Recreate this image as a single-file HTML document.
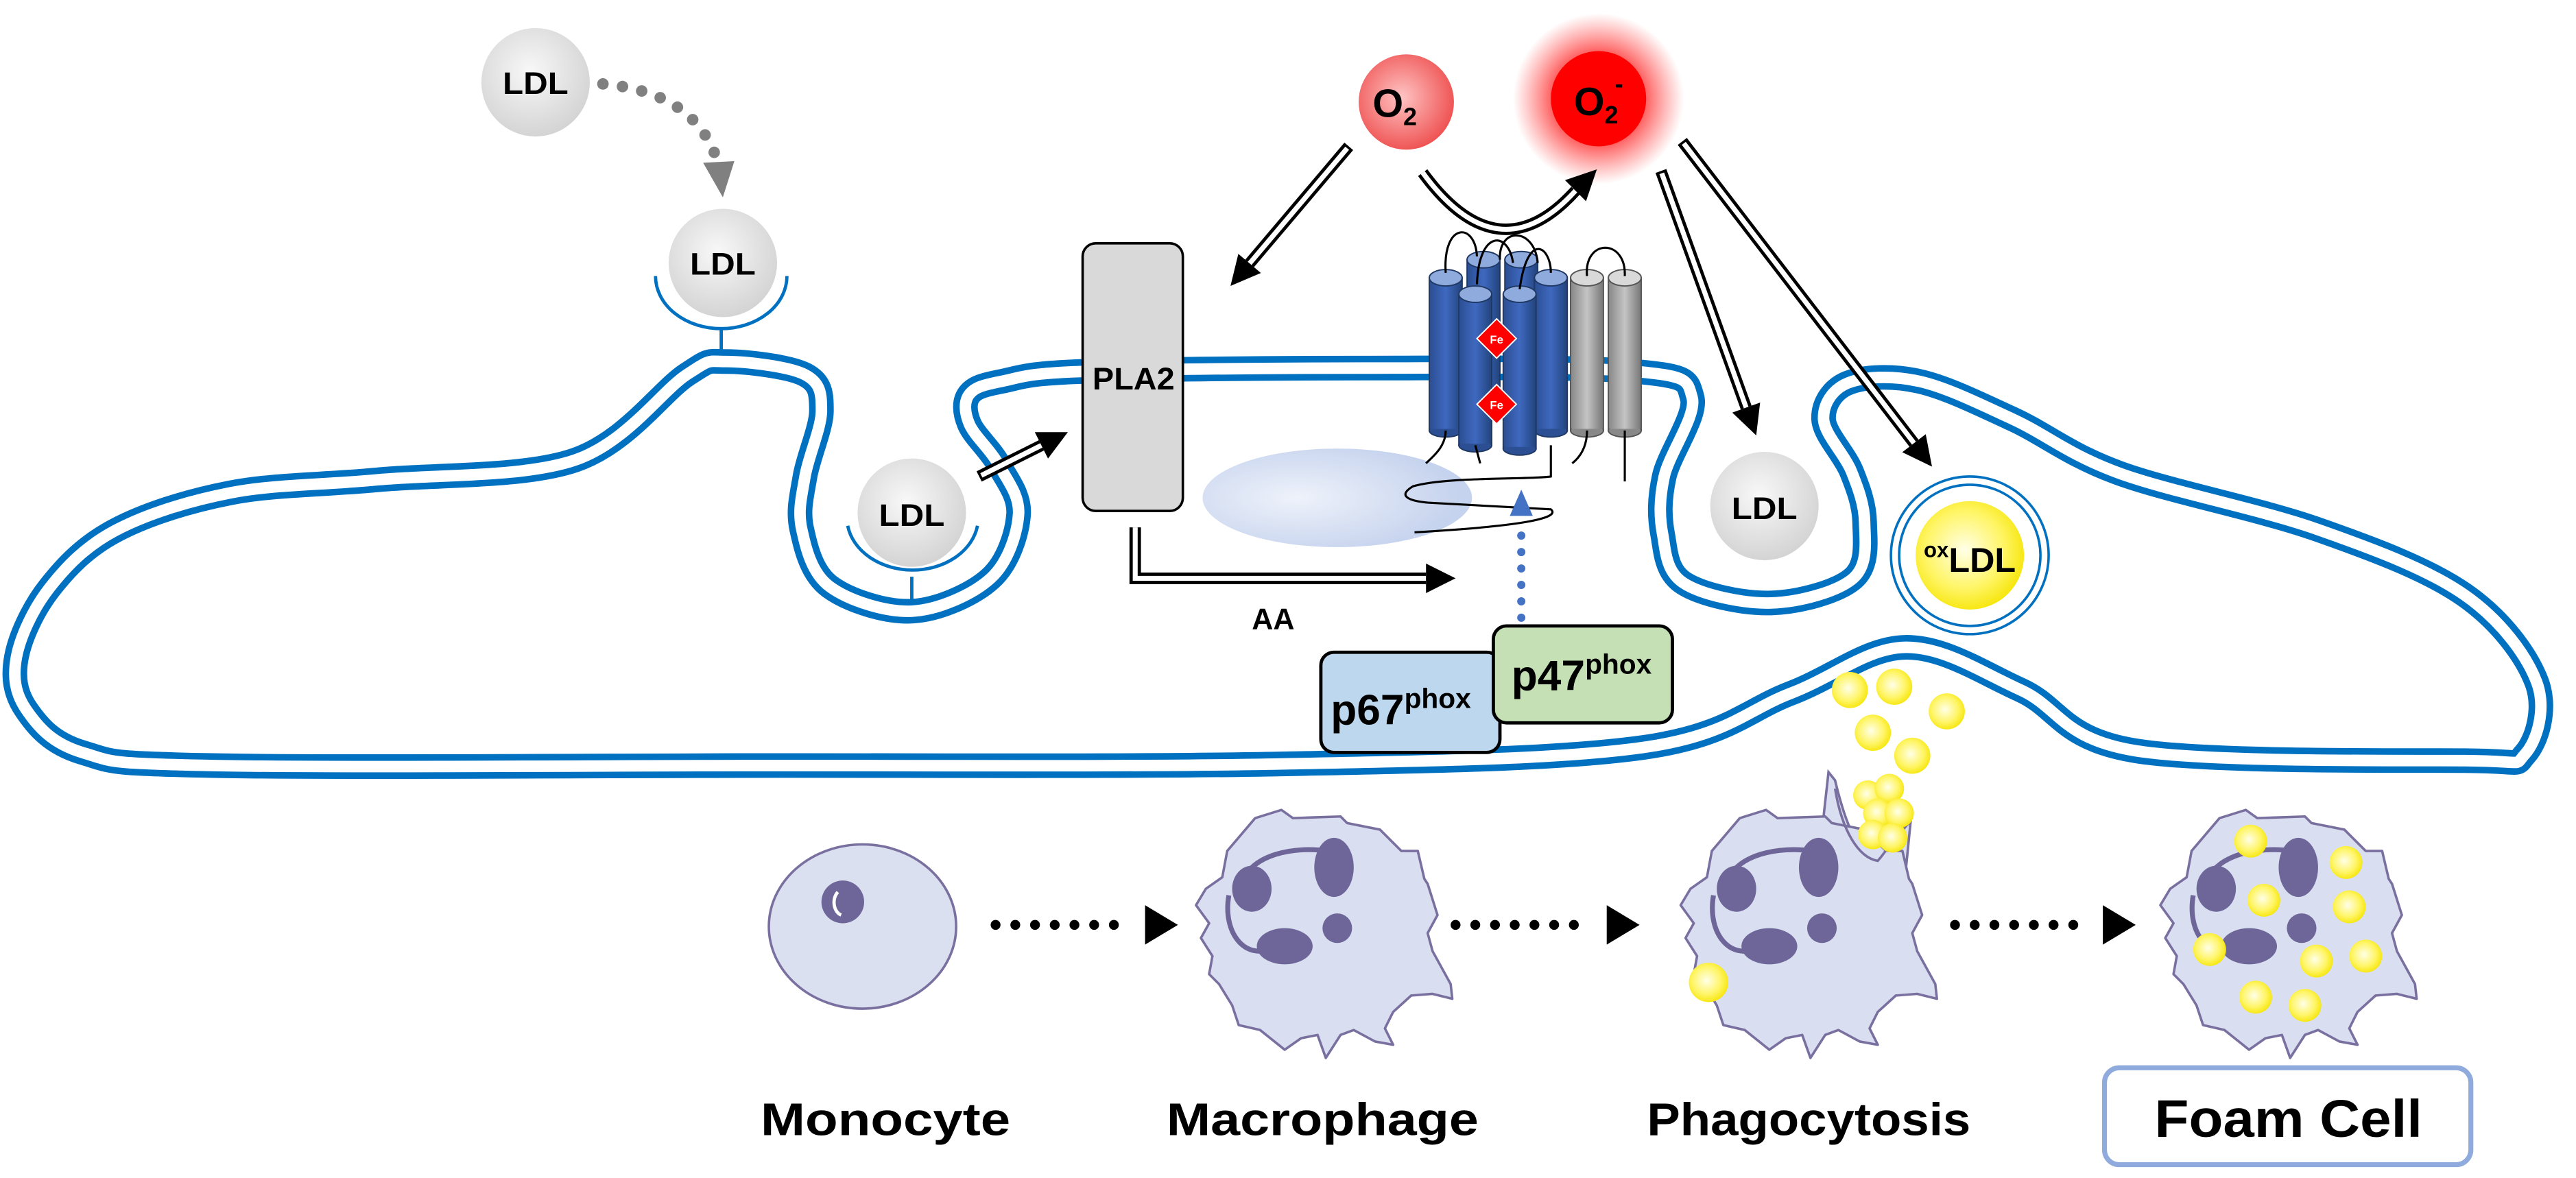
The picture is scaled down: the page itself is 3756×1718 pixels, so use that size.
<!DOCTYPE html>
<html><head><meta charset="utf-8"><style>
html,body{margin:0;padding:0;background:#fff;}
svg{display:block;}
text{font-family:"Liberation Sans",sans-serif;font-weight:bold;fill:#000;}
</style></head><body>
<svg id="s" width="3756" height="1718" viewBox="0 0 1568 717" xmlns="http://www.w3.org/2000/svg">
<defs>
<radialGradient id="gLdl" cx="0.45" cy="0.4" r="0.6"><stop offset="0" stop-color="#f8f8f8"/><stop offset="1" stop-color="#d4d4d4"/></radialGradient>
<radialGradient id="gO2" cx="0.45" cy="0.45" r="0.6"><stop offset="0" stop-color="#ffc4c4"/><stop offset="1" stop-color="#ee4c4c"/></radialGradient>
<radialGradient id="gGlow" cx="0.5" cy="0.5" r="0.5"><stop offset="0.5" stop-color="#ff2020" stop-opacity="0.8"/><stop offset="1" stop-color="#ff4040" stop-opacity="0"/></radialGradient>
<radialGradient id="gY" cx="0.45" cy="0.45" r="0.6"><stop offset="0" stop-color="#ffffe8"/><stop offset="0.6" stop-color="#fff566"/><stop offset="1" stop-color="#f5e400"/></radialGradient>
<radialGradient id="gEl" cx="0.35" cy="0.5" r="0.6"><stop offset="0" stop-color="#eef2fa"/><stop offset="1" stop-color="#c6d3ee"/></radialGradient>
<linearGradient id="gBlue" x1="0" x2="1"><stop offset="0" stop-color="#2c4f94"/><stop offset="0.5" stop-color="#3f69c0"/><stop offset="1" stop-color="#23457f"/></linearGradient>
<linearGradient id="gGray" x1="0" x2="1"><stop offset="0" stop-color="#8a8a8a"/><stop offset="0.5" stop-color="#c4c4c4"/><stop offset="1" stop-color="#7a7a7a"/></linearGradient>
<g id="mac">
<path d="M747,518 L764,498 L780,493 L787,498 L816,497 L820,501 L840,505 L853,518 L863,518 L867,535 L869,538 L875,557 L869,568 L872,579 L883,599 L884,608 L872,605 L859,606 L848,616 L843,626 L848,636 L837,634 L824,627 L816,630 L807,644 L802,630 L792,632 L782,639 L767,627 L754,624 L750,612 L742,599 L736,593 L738,582 L731,571 L736,562 L728,551 L734,541 L744,534 Z" fill="#d9dff0" stroke="#7a70a0" stroke-width="1.5" stroke-linejoin="round"/>
<path d="M756,537 C762,520 788,515 808,518" fill="none" stroke="#6e6699" stroke-width="3"/>
<path d="M748,545 C744,568 758,585 775,577" fill="none" stroke="#6e6699" stroke-width="3"/>
<ellipse cx="812" cy="528" rx="12" ry="18" fill="#6e6699"/>
<ellipse cx="762" cy="541" rx="12" ry="14" fill="#6e6699"/>
<ellipse cx="782" cy="576" rx="17" ry="11" fill="#6e6699"/>
<ellipse cx="814" cy="565" rx="9" ry="9" fill="#6e6699"/>
</g>
</defs>

<path id="mem1" fill="none" stroke="#0070c0" stroke-width="15" stroke-linejoin="round"/>
<path id="mem2" fill="none" stroke="#fff" stroke-width="7" stroke-linejoin="round"/>

<circle cx="326" cy="50" r="33" fill="url(#gLdl)"/>
<text x="326" y="57" font-size="19" text-anchor="middle" textLength="40" lengthAdjust="spacingAndGlyphs">LDL</text>
<path d="M367,51 Q422,56 436,96" fill="none" stroke="#808080" stroke-width="7" stroke-linecap="round" stroke-dasharray="0 12"/>
<polygon points="428,99 447,98 440,120" fill="#808080"/>

<circle cx="440" cy="160" r="33" fill="url(#gLdl)"/>
<text x="440" y="167" font-size="19" text-anchor="middle" textLength="40" lengthAdjust="spacingAndGlyphs">LDL</text>
<path d="M399,168 A40,32 0 0 0 479,168" fill="none" stroke="#0070c0" stroke-width="2"/>
<line x1="439" y1="199" x2="439" y2="214" stroke="#0070c0" stroke-width="2"/>

<circle cx="555" cy="312" r="33" fill="url(#gLdl)"/>
<text x="555" y="320" font-size="19" text-anchor="middle" textLength="40" lengthAdjust="spacingAndGlyphs">LDL</text>
<path d="M516,320 A40,32 0 0 0 595,320" fill="none" stroke="#0070c0" stroke-width="2"/>
<line x1="555" y1="351" x2="555" y2="366" stroke="#0070c0" stroke-width="2"/>

<rect x="659" y="148" width="61" height="163" rx="8" fill="#d9d9d9" stroke="#000" stroke-width="1.5"/>
<text x="690" y="237" font-size="19" text-anchor="middle" textLength="50" lengthAdjust="spacingAndGlyphs">PLA2</text>

<ellipse cx="814" cy="303" rx="82" ry="30" fill="url(#gEl)"/>

<g id="nox" stroke="#1f3864" stroke-width="0.8"></g>
<g fill="none" stroke="#000" stroke-width="1.3">
<path d="M880,166 C878,135 898,135 899,156"/>
<path d="M899,173 C900,140 918,140 921,160"/>
<path d="M913,158 C912,138 934,138 936,160"/>
<path d="M925,176 C930,140 944,150 944,166"/>
<path d="M966,168 C964,145 990,145 989,168"/>
<path d="M880,262 C880,272 872,278 868,282"/>
<path d="M898,271 L901,282"/>
<path d="M944,271 L944,290 C930,292 880,290 860,296 C850,302 858,305 870,306 L944,310 C950,315 930,320 861,324"/>
<path d="M966,262 C966,272 962,278 957,282"/>
<path d="M989,262 L989,293"/>
</g>
<g>
<polygon points="911,194 923,206 911,218 899,206" fill="#ff0000" stroke="#fff" stroke-width="0.8"/>
<text x="911" y="209" font-size="7" text-anchor="middle" style="fill:#fff">Fe</text>
<polygon points="911,234 923,246 911,258 899,246" fill="#ff0000" stroke="#fff" stroke-width="0.8"/>
<text x="911" y="249" font-size="7" text-anchor="middle" style="fill:#fff">Fe</text>
</g>

<circle cx="856" cy="62" r="29" fill="url(#gO2)"/>
<text x="849" y="71" font-size="24" text-anchor="middle">O<tspan font-size="15" dy="5">2</tspan></text>
<circle cx="973" cy="60" r="52" fill="url(#gGlow)"/>
<circle cx="973" cy="60" r="29" fill="#ff0000"/>
<text x="958" y="70" font-size="24">O<tspan font-size="15" dy="5">2</tspan><tspan font-size="15" dy="-19" dx="-2">-</tspan></text>

<g id="arrows"></g>
<path d="M866,105 Q912,168 959,116" fill="none" stroke="#000" stroke-width="7"/>
<path d="M866,105 Q912,168 959,116" fill="none" stroke="#fff" stroke-width="3"/>
<polygon points="972,103 965.4,122.4 952.6,109.6" fill="#000"/>
<path d="M691,321 L691,352 L868,352" fill="none" stroke="#000" stroke-width="7"/>
<path d="M691,321 L691,352 L868,352" fill="none" stroke="#fff" stroke-width="3"/>
<polygon points="886,352 868,343 868,361" fill="#000"/>
<text x="775" y="383" font-size="18" text-anchor="middle">AA</text>

<line x1="926" y1="376" x2="926" y2="318" stroke="#4472c4" stroke-width="5" stroke-linecap="round" stroke-dasharray="0 10"/>
<polygon points="926,298 919,314 933,314" fill="#4472c4"/>

<rect x="804" y="397" width="109" height="61" rx="8" fill="#bdd7ee" stroke="#000" stroke-width="2"/>
<rect x="909" y="381" width="109" height="59" rx="8" fill="#c5e0b4" stroke="#000" stroke-width="2"/>
<text x="810" y="441" font-size="26">p67<tspan font-size="17" dy="-10">phox</tspan></text>
<text x="920" y="420" font-size="26">p47<tspan font-size="17" dy="-10">phox</tspan></text>

<circle cx="1074" cy="308" r="33" fill="url(#gLdl)"/>
<text x="1074" y="316" font-size="19" text-anchor="middle" textLength="40" lengthAdjust="spacingAndGlyphs">LDL</text>
<circle cx="1199" cy="338" r="48" fill="#fff" stroke="#0070c0" stroke-width="1.5"/>
<circle cx="1199" cy="338" r="43" fill="none" stroke="#0070c0" stroke-width="1.5"/>
<circle cx="1199" cy="338" r="33" fill="url(#gY)"/>
<text x="1199" y="348" font-size="21" text-anchor="middle">
<tspan font-size="13" dy="-9">ox</tspan><tspan dy="9">LDL</tspan></text>

<g fill="url(#gY)">
<circle cx="1126" cy="420" r="11"/><circle cx="1153" cy="418" r="11"/><circle cx="1185" cy="433" r="11"/>
<circle cx="1140" cy="446" r="11"/><circle cx="1164" cy="460" r="11"/>
</g>

<ellipse cx="525" cy="564" rx="57" ry="50" fill="#dae0f0" stroke="#7a70a0" stroke-width="1.5"/>
<ellipse cx="513" cy="549" rx="13" ry="13" fill="#6e6699"/>
<path d="M510,543 A6,8 0 0 0 512,557" fill="none" stroke="#fff" stroke-width="2"/>

<use href="#mac"/>
<g transform="translate(295,0)">
<path d="M815,497 L818,470 L822,475 C828,500 835,520 850,525 C858,515 862,505 868,500 L865,530 L860,540 L840,540 Z" fill="#d9dff0" stroke="#7a70a0" stroke-width="1.5"/>
<use href="#mac"/>
<path d="M822,480 C826,505 836,522 848,524 C856,515 860,505 864,498" fill="none" stroke="#7a70a0" stroke-width="1.5"/>
</g>
<g fill="url(#gY)">
<circle cx="1137" cy="484" r="9"/><circle cx="1150" cy="480" r="9"/><circle cx="1143" cy="495" r="9"/>
<circle cx="1156" cy="495" r="9"/><circle cx="1140" cy="508" r="9"/><circle cx="1152" cy="510" r="9"/>
<circle cx="1040" cy="598" r="12"/>
</g>
<use href="#mac" x="587"/>
<g fill="url(#gY)">
<circle cx="1370" cy="512" r="10"/><circle cx="1428" cy="525" r="10"/><circle cx="1378" cy="548" r="10"/>
<circle cx="1430" cy="552" r="10"/><circle cx="1345" cy="578" r="10"/><circle cx="1410" cy="585" r="10"/>
<circle cx="1440" cy="582" r="10"/><circle cx="1373" cy="607" r="10"/><circle cx="1403" cy="612" r="10"/>
</g>

<g stroke="#000" stroke-width="6" stroke-linecap="round" stroke-dasharray="0 12">
<line x1="606" y1="563" x2="690" y2="563"/>
<line x1="886" y1="563" x2="970" y2="563"/>
<line x1="1190" y1="563" x2="1274" y2="563"/>
</g>
<polygon points="697,551 717,563 697,575" fill="#000"/>
<polygon points="978,551 998,563 978,575" fill="#000"/>
<polygon points="1280,551 1300,563 1280,575" fill="#000"/>

<rect x="1281" y="650" width="223" height="59" rx="9" fill="#fff" stroke="#8faadc" stroke-width="3"/>
<text x="539" y="691" font-size="28" text-anchor="middle" textLength="152" lengthAdjust="spacingAndGlyphs">Monocyte</text>
<text x="805" y="691" font-size="28" text-anchor="middle" textLength="190" lengthAdjust="spacingAndGlyphs">Macrophage</text>
<text x="1101" y="691" font-size="28" text-anchor="middle" textLength="197" lengthAdjust="spacingAndGlyphs">Phagocytosis</text>
<text x="1393" y="692" font-size="32" text-anchor="middle" textLength="163" lengthAdjust="spacingAndGlyphs">Foam Cell</text>
</svg>
<script>
(function(){
var NS="http://www.w3.org/2000/svg";
var P=[[10,400],[30,358],[70,323],[140,300],[230,292],[350,280],[418,228],[442,220],[490,228],[500,250],[490,290],[488,322],[505,357],[555,372],[603,352],[620,313],[608,283],[590,258],[590,240],[610,232],[660,226],[830,224],[995,226],[1030,242],[1013,290],[1012,325],[1025,355],[1078,367],[1128,352],[1135,318],[1127,287],[1110,255],[1125,233],[1168,232],[1225,255],[1290,288],[1410,322],[1500,362],[1544,415],[1537,459],[1500,463],[1300,457],[1230,420],[1160,394],[1090,422],[1000,455],[780,465],[450,466],[130,466],[50,458],[16,432]];
var n=P.length,d="M"+P[0][0]+","+P[0][1];
for(var i=0;i<n;i++){var p0=P[(i-1+n)%n],p1=P[i],p2=P[(i+1)%n],p3=P[(i+2)%n];
var c1=[p1[0]+(p2[0]-p0[0])/6,p1[1]+(p2[1]-p0[1])/6],c2=[p2[0]-(p3[0]-p1[0])/6,p2[1]-(p3[1]-p1[1])/6];
d+=" C"+c1[0].toFixed(1)+","+c1[1].toFixed(1)+" "+c2[0].toFixed(1)+","+c2[1].toFixed(1)+" "+p2[0]+","+p2[1];}
d+="Z";
document.getElementById("mem1").setAttribute("d",d);
document.getElementById("mem2").setAttribute("d",d);
function el(t,a,par){var e=document.createElementNS(NS,t);for(var k in a)e.setAttribute(k,a[k]);par.appendChild(e);return e;}
var A=document.getElementById("arrows");
function arrow(x1,y1,x2,y2){var dx=x2-x1,dy=y2-y1,L=Math.sqrt(dx*dx+dy*dy),ux=dx/L,uy=dy/L;
var bx=x2-18*ux,by=y2-18*uy;
el("line",{x1:x1,y1:y1,x2:bx,y2:by,stroke:"#000","stroke-width":7},A);
el("line",{x1:x1+ux*1.5,y1:y1+uy*1.5,x2:bx,y2:by,stroke:"#fff","stroke-width":3},A);
el("polygon",{points:x2+","+y2+" "+(bx-uy*9)+","+(by+ux*9)+" "+(bx+uy*9)+","+(by-ux*9),fill:"#000"},A);}
arrow(596,290,650,263);
arrow(821,89,749,174);
arrow(1011,104,1069,265);
arrow(1024,86,1176,284);
var N=document.getElementById("nox");
function cyl(x,top,bot,blue){var w=20;
el("rect",{x:x,y:top,width:w,height:bot-top,fill:blue?"url(#gBlue)":"url(#gGray)",stroke:blue?"#1f3864":"#555"},N);
el("ellipse",{cx:x+w/2,cy:bot,rx:w/2,ry:4,fill:blue?"#2c4f94":"#888",stroke:blue?"#1f3864":"#555"},N);
el("rect",{x:x+0.5,y:top,width:w-1,height:bot-top-1,fill:blue?"url(#gBlue)":"url(#gGray)",stroke:"none"},N);
el("ellipse",{cx:x+w/2,cy:top,rx:w/2,ry:5,fill:blue?"#8faadc":"#d9d9d9",stroke:blue?"#1f3864":"#555"},N);}
cyl(893,158,250,1);cyl(916,158,250,1);
cyl(870,169,262,1);cyl(934,169,262,1);
cyl(956,169,262,0);cyl(979,169,262,0);
cyl(888,179,271,1);cyl(915,179,273,1);
})();
</script>
</body></html>
